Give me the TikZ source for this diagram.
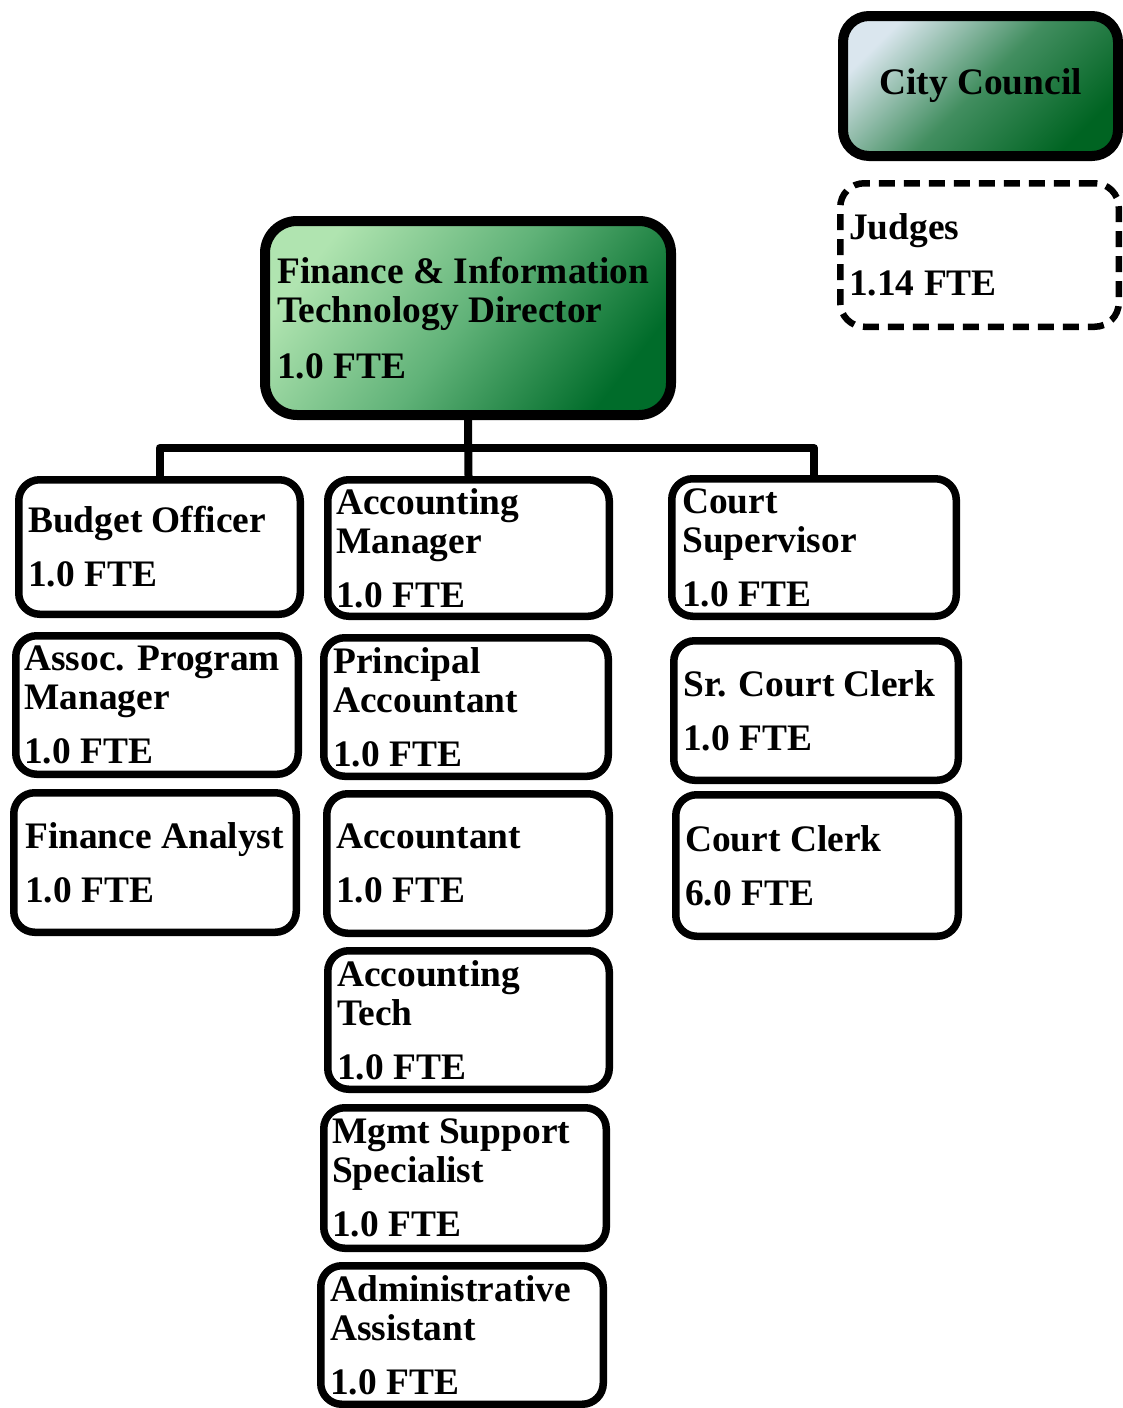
\documentclass[tikz,border=0pt]{standalone}
\usepackage{fontspec}
\setmainfont{Liberation Serif}
\definecolor{dirA}{RGB}{176,228,176}
\definecolor{dirM}{RGB}{96,178,120}
\definecolor{dirB}{RGB}{0,108,42}
\definecolor{ccA}{RGB}{218,230,238}
\definecolor{ccM}{RGB}{66,142,96}
\definecolor{ccB}{RGB}{0,100,34}
\pgfdeclarelayer{bg}
\pgfsetlayers{bg,main}
\tikzset{
  box/.style={draw=black, line width=7.5pt, rounded corners=21pt, fill=white, inner sep=0pt},
  lbl/.style={anchor=west, align=left, inner sep=0pt, font=\fontsize{37.4}{39}\selectfont\bfseries},
  conn/.style={draw=black, line width=8pt, line join=round},
}
\begin{document}
\begin{tikzpicture}[x=1pt,y=-1pt]
\useasboundingbox (0,0) rectangle (1123,1408);
\clip (0,0) rectangle (1123,1408);

\coordinate (bus) at (468,448);

% director
\node[box, line width=10pt, rounded corners=32pt, minimum width=406pt, minimum height=194pt,
      top color=dirA, bottom color=dirB, middle color=dirM, shading angle=52] (dir) at (468,318) {};

% level boxes
\node[box, minimum width=281.5pt, minimum height=134.5pt] (bo)  at (159.5,547) {};
\node[box, minimum width=282.5pt, minimum height=138.5pt] (apm) at (157,705) {};
\node[box, minimum width=282.5pt, minimum height=139.5pt] (fa)  at (155,862.5) {};
\node[box, minimum width=281.5pt, minimum height=136.5pt] (am)  at (468.5,548) {};
\node[box, minimum width=284.5pt, minimum height=138.5pt] (pa)  at (466,707) {};
\node[box, minimum width=282.5pt, minimum height=139.5pt] (acc) at (468,863.5) {};
\node[box, minimum width=281.5pt, minimum height=138.5pt] (at)  at (468.5,1020) {};
\node[box, minimum width=282.5pt, minimum height=140.5pt] (mss) at (465,1178) {};
\node[box, minimum width=282.5pt, minimum height=138.5pt] (aa)  at (462,1335) {};
\node[box, minimum width=284.5pt, minimum height=137.5pt] (cs)  at (814,547.5) {};
\node[box, minimum width=284.5pt, minimum height=139.5pt] (scc) at (816,710.5) {};
\node[box, minimum width=282.5pt, minimum height=141.5pt] (cc)  at (817,865.5) {};

% connectors behind the boxes
\begin{pgfonlayer}{bg}
\draw[conn] (dir.south) -- (am.north);
\draw[conn] (bo.north) |- (bus) -| (cs.north);
\end{pgfonlayer}

% City Council and Judges
\node[box, line width=10pt, rounded corners=26pt, minimum width=275pt, minimum height=140pt,
      top color=ccA, bottom color=ccB, middle color=ccM, shading angle=45,
      font=\fontsize{37.4}{39}\selectfont\bfseries] (council) at (980.5,86) {City Council};
\node[box, line width=6.5pt, rounded corners=24pt, dash pattern=on 16pt off 9pt,
      minimum width=278.5pt, minimum height=143.5pt] (judges) at (979.5,255) {};

% texts
\node[lbl] (dir-t) at ([xshift=17pt]dir.west) {Finance \& Information\\Technology Director\\[17pt]1.0 FTE};
\node[lbl] (judges-t) at ([xshift=12pt]judges.west) {Judges\\[17pt]1.14 FTE};
\node[lbl] (bo-t)  at ([xshift=13pt]bo.west) {Budget Officer\\[15pt]1.0 FTE};
\node[lbl] (apm-t) at ([xshift=12pt]apm.west) {Assoc. Program\\Manager\\[15pt]1.0 FTE};
\node[lbl] (fa-t)  at ([xshift=15pt]fa.west) {Finance Analyst\\[15pt]1.0 FTE};
\node[lbl] (am-t)  at ([xshift=12pt]am.west) {Accounting\\Manager\\[15pt]1.0 FTE};
\node[lbl] (pa-t)  at ([xshift=13pt]pa.west) {Principal\\Accountant\\[15pt]1.0 FTE};
\node[lbl] (acc-t) at ([xshift=13pt]acc.west) {Accountant\\[15pt]1.0 FTE};
\node[lbl] (at-t)  at ([xshift=13pt]at.west) {Accounting\\Tech\\[15pt]1.0 FTE};
\node[lbl] (mss-t) at ([xshift=12pt]mss.west) {Mgmt Support\\Specialist\\[15pt]1.0 FTE};
\node[lbl] (aa-t)  at ([xshift=13pt]aa.west) {Administrative\\Assistant\\[15pt]1.0 FTE};
\node[lbl] (cs-t)  at ([xshift=14pt]cs.west) {Court\\Supervisor\\[15pt]1.0 FTE};
\node[lbl] (scc-t) at ([xshift=13pt]scc.west) {Sr. Court Clerk\\[15pt]1.0 FTE};
\node[lbl] (cc-t)  at ([xshift=13pt]cc.west) {Court Clerk\\[15pt]6.0 FTE};
\end{tikzpicture}
\end{document}
